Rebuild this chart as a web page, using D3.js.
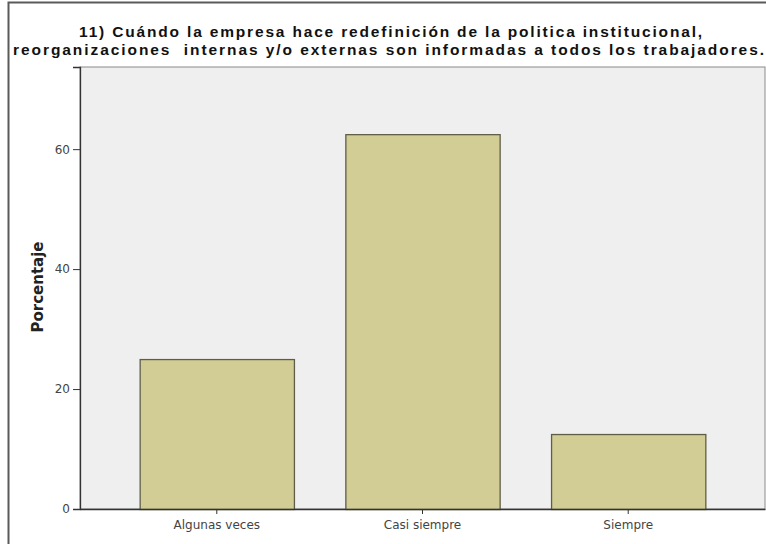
<!DOCTYPE html>
<html><head><meta charset="utf-8">
<script src="https://cdn.jsdelivr.net/npm/d3@7/dist/d3.min.js"></script>
<style>
html,body{margin:0;padding:0;background:#fff;}
svg{display:block;}
text{white-space:pre;}
</style></head>
<body>
<script>
const categories = ["Algunas veces", "Casi siempre", "Siempre"];
const values = [25, 62.5, 12.5];
const yTicks = [0, 20, 40, 60];
const titleLines = [
  "11) Cuándo la empresa hace redefinición de la politica institucional,",
  "reorganizaciones  internas y/o externas son informadas a todos los trabajadores."
];
const yLabel = "Porcentaje";

const W = 766, H = 544;
const plot = {left: 80, right: 765, top: 67, bottom: 509};

const svg = d3.select("body").append("svg").attr("width", W).attr("height", H);

// outer frame
svg.append("rect").attr("x", 8.5).attr("y", 2.5).attr("width", 820).attr("height", 620)
  .attr("fill", "#fff").attr("stroke", "#5a5a5a").attr("stroke-width", 2);

const x = d3.scaleBand().domain(categories).range([plot.left, plot.right])
  .paddingInner(0.25).paddingOuter(0.29);
const y = d3.scaleLinear().domain([0, 73.7]).range([plot.bottom, plot.top]);

// plot background
svg.append("rect").attr("x", plot.left).attr("y", plot.top)
  .attr("width", plot.right - plot.left).attr("height", plot.bottom - plot.top)
  .attr("fill", "#efefef").attr("stroke", "#8a8a8a").attr("stroke-width", 1);

// bars
svg.selectAll("rect.bar").data(values).enter().append("rect").attr("class", "bar")
  .attr("x", (d, i) => x(categories[i]) + 0.5)
  .attr("y", d => y(d) + 0.5)
  .attr("width", x.bandwidth())
  .attr("height", d => y(0) - y(d))
  .attr("fill", "#d2cd95").attr("stroke", "#5e5e48").attr("stroke-width", 1.3);

// y axis
const yAxis = d3.axisLeft(y).tickValues(yTicks).tickSize(7).tickPadding(3).tickFormat(d3.format("d"));
const gy = svg.append("g").attr("transform", `translate(${plot.left},0)`).call(yAxis);
gy.select(".domain").attr("stroke", "#333").attr("stroke-width", 1.3);
gy.selectAll(".tick line").attr("stroke", "#333");
gy.selectAll(".tick text").attr("font-family", "DejaVu Sans").attr("font-size", 12).attr("fill", "#444");

// x axis
const xAxis = d3.axisBottom(x).tickSize(5).tickPadding(6).tickSizeOuter(0);
const gx = svg.append("g").attr("transform", `translate(0,${plot.bottom})`).call(xAxis);
gx.select(".domain").attr("stroke", "#333").attr("stroke-width", 1.3);
gx.selectAll(".tick line").attr("stroke", "#333");
gx.selectAll(".tick text").attr("font-family", "DejaVu Sans").attr("font-size", 12).attr("fill", "#444");

// title (two lines, stretched to the reference widths)
const titleTargets = [{cx: 391.5, y: 37, w: 623}, {cx: 389.5, y: 54.5, w: 751}];
titleLines.forEach((line, i) => {
  const t = svg.append("text").attr("text-anchor", "middle")
    .attr("font-family", "Liberation Sans, Arial, sans-serif").attr("font-weight", "bold")
    .attr("font-size", 15.5).attr("fill", "#111")
    .attr("x", titleTargets[i].cx).attr("y", titleTargets[i].y).text(line);
  const natural = t.node().getComputedTextLength();
  const ls = (titleTargets[i].w - natural) / (line.length - 1);
  t.attr("letter-spacing", ls.toFixed(3));
});

// y label
svg.append("text").attr("transform", "translate(43,287) rotate(-90)").attr("text-anchor", "middle")
  .attr("font-family", "DejaVu Sans").attr("font-weight", "bold").attr("font-size", 15)
  .attr("fill", "#222").text(yLabel);
</script>
</body></html>
